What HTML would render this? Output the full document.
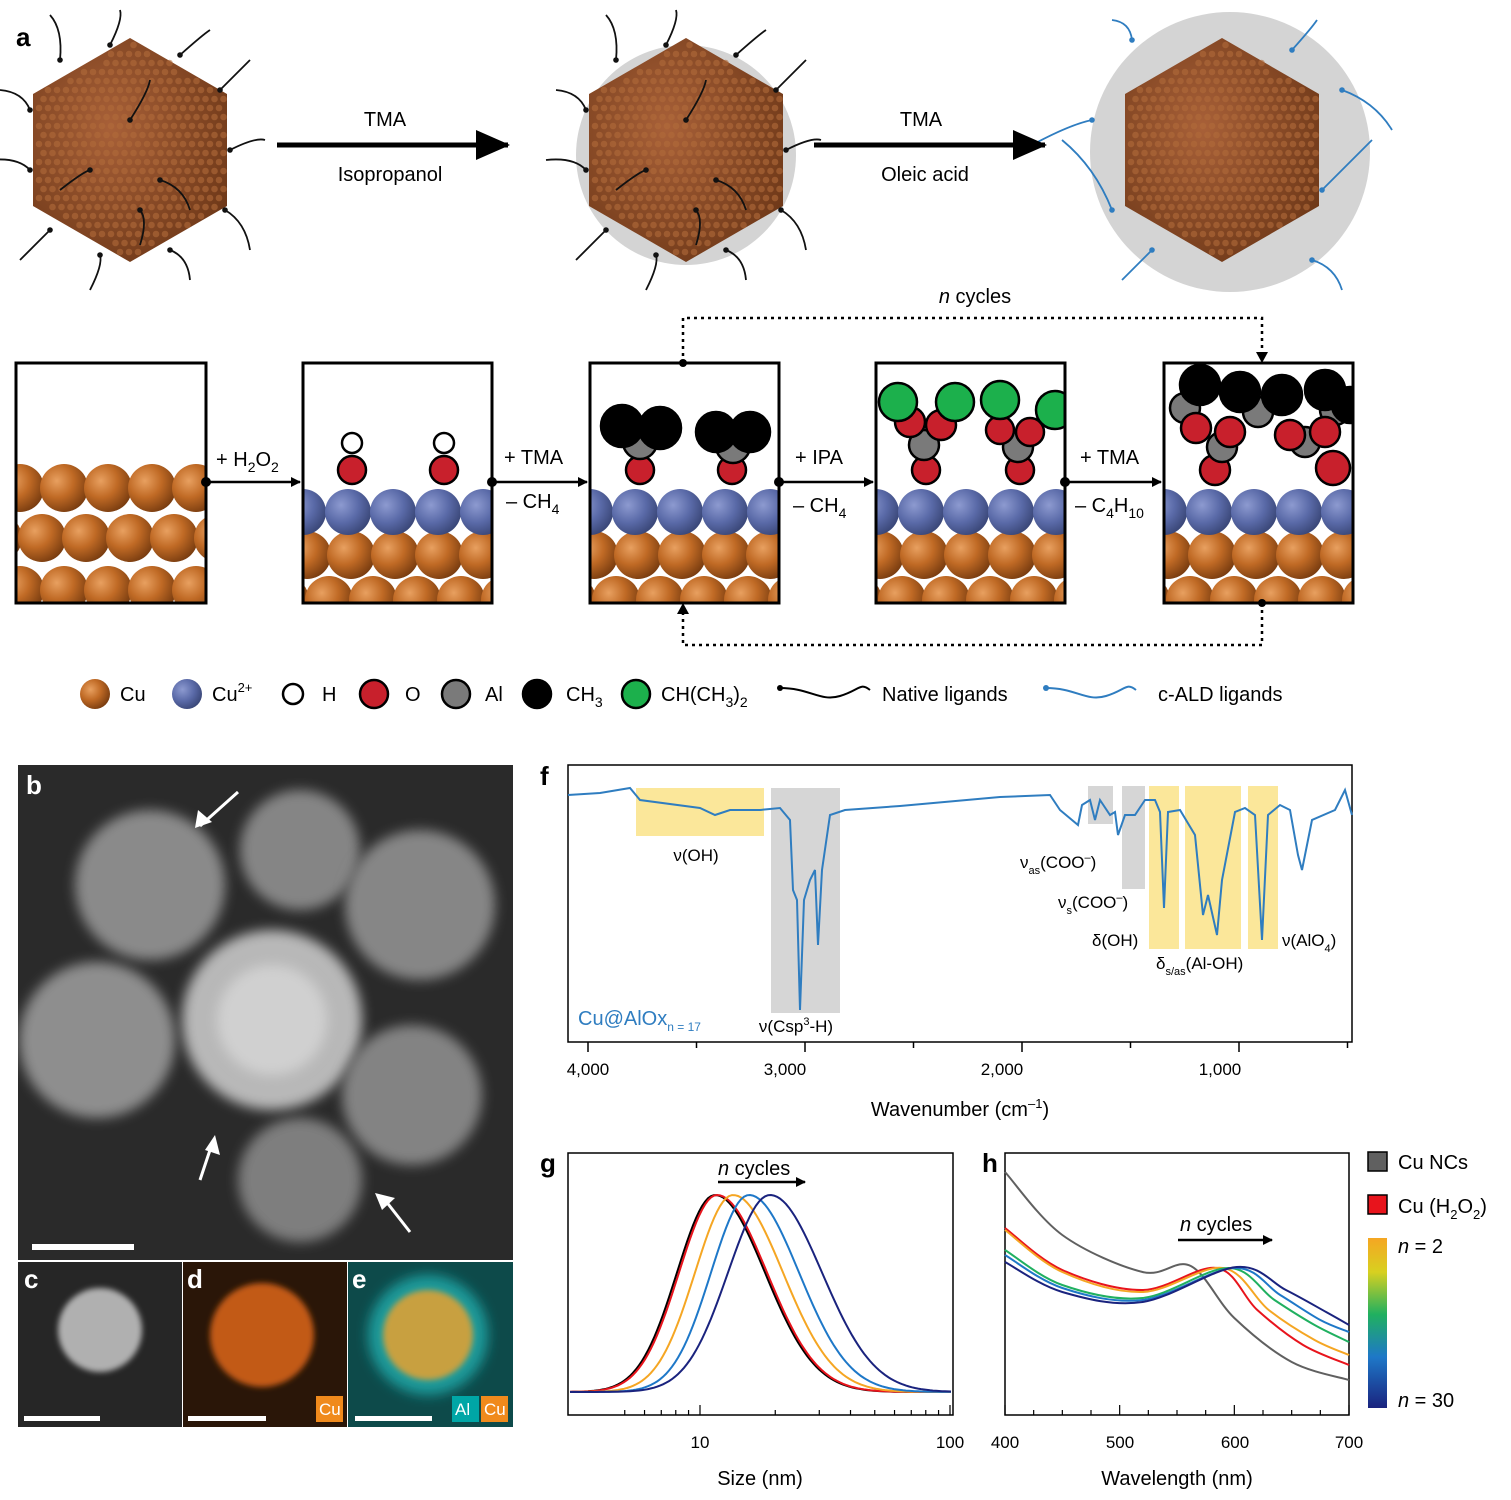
<!DOCTYPE html>
<html><head><meta charset="utf-8"><style>
html,body{margin:0;padding:0;background:#fff}
svg{display:block;font-family:"Liberation Sans",sans-serif}
</style></head><body>
<svg id="s" width="1511" height="1500" viewBox="0 0 1511 1500" xmlns="http://www.w3.org/2000/svg">
<defs>
<radialGradient id="cu" cx="35%" cy="35%" r="70%"><stop offset="0" stop-color="#e8a060"/><stop offset="0.5" stop-color="#c06a25"/><stop offset="1" stop-color="#7a3d10"/></radialGradient>
<radialGradient id="bl" cx="35%" cy="35%" r="70%"><stop offset="0" stop-color="#8d9ad0"/><stop offset="0.55" stop-color="#5a6aa8"/><stop offset="1" stop-color="#3a4778"/></radialGradient>
<radialGradient id="nc" cx="40%" cy="40%" r="70%"><stop offset="0" stop-color="#a86038"/><stop offset="1" stop-color="#6e3818"/></radialGradient>
<linearGradient id="cb" x1="0" y1="0" x2="0" y2="1"><stop offset="0" stop-color="#f5a623"/><stop offset="0.2" stop-color="#d8d020"/><stop offset="0.45" stop-color="#20b060"/><stop offset="0.7" stop-color="#1e78c8"/><stop offset="1" stop-color="#1a237e"/></linearGradient>
<filter id="blur"><feGaussianBlur stdDeviation="6"/></filter>
<filter id="blur2"><feGaussianBlur stdDeviation="3"/></filter>
<clipPath id="c1"><rect x="16" y="363" width="190" height="240"/></clipPath>
<clipPath id="c2"><rect x="303" y="363" width="189" height="240"/></clipPath>
<clipPath id="c3"><rect x="590" y="363" width="189" height="240"/></clipPath>
<clipPath id="c4"><rect x="876" y="363" width="189" height="240"/></clipPath>
<clipPath id="c5"><rect x="1164" y="363" width="188" height="240"/></clipPath>
<clipPath id="tem"><rect x="18" y="765" width="495" height="495"/></clipPath>
<marker id="ah" markerWidth="10" markerHeight="10" refX="9" refY="5" orient="auto" markerUnits="userSpaceOnUse"><path d="M0,0 L10,5 L0,10 z" fill="#000"/></marker>
</defs>
<g id="g"></g>
<g font-size="20" fill="#000">
<text x="16" y="46" font-weight="bold" font-size="26">a</text>
<text x="385" y="126" text-anchor="middle">TMA</text>
<text x="390" y="181" text-anchor="middle">Isopropanol</text>
<text x="921" y="126" text-anchor="middle">TMA</text>
<text x="925" y="181" text-anchor="middle">Oleic acid</text>
<text x="975" y="303" text-anchor="middle"><tspan font-style="italic">n</tspan> cycles</text>
<text x="216" y="466">+ H<tspan font-size="14" dy="6">2</tspan><tspan dy="-6">O</tspan><tspan font-size="14" dy="6">2</tspan></text>
<text x="504" y="464">+ TMA</text>
<text x="506" y="508">– CH<tspan font-size="14" dy="6">4</tspan></text>
<text x="795" y="464">+ IPA</text>
<text x="793" y="512">– CH<tspan font-size="14" dy="6">4</tspan></text>
<text x="1080" y="464">+ TMA</text>
<text x="1075" y="512">– C<tspan font-size="14" dy="6">4</tspan><tspan dy="-6">H</tspan><tspan font-size="14" dy="6">10</tspan></text>
<text x="120" y="701">Cu</text>
<text x="212" y="701">Cu<tspan font-size="13" dy="-9">2+</tspan></text>
<text x="322" y="701">H</text>
<text x="405" y="701">O</text>
<text x="485" y="701">Al</text>
<text x="566" y="701">CH<tspan font-size="14" dy="6">3</tspan></text>
<text x="661" y="701">CH(CH<tspan font-size="14" dy="6">3</tspan><tspan dy="-6">)</tspan><tspan font-size="14" dy="6">2</tspan></text>
<text x="882" y="701">Native ligands</text>
<text x="1158" y="701">c-ALD ligands</text>
<text x="540" y="785" font-weight="bold" font-size="26">f</text>
<text x="540" y="1172" font-weight="bold" font-size="26">g</text>
<text x="982" y="1172" font-weight="bold" font-size="26">h</text>
</g>
<g font-size="17" fill="#000">
<text x="696" y="861" text-anchor="middle">ν(OH)</text>
<text x="796" y="1032" text-anchor="middle">ν(Csp<tspan font-size="11" dy="-7">3</tspan><tspan dy="7">-H)</tspan></text>
<text x="1020" y="868">ν<tspan font-size="11" dy="6">as</tspan><tspan dy="-6">(COO</tspan><tspan font-size="11" dy="-7">–</tspan><tspan dy="7">)</tspan></text>
<text x="1058" y="908">ν<tspan font-size="11" dy="6">s</tspan><tspan dy="-6">(COO</tspan><tspan font-size="11" dy="-7">–</tspan><tspan dy="7">)</tspan></text>
<text x="1092" y="946">δ(OH)</text>
<text x="1156" y="969">δ<tspan font-size="11" dy="6">s/as</tspan><tspan dy="-6">(Al-OH)</tspan></text>
<text x="1282" y="946">ν(AlO<tspan font-size="11" dy="6">4</tspan><tspan dy="-6">)</tspan></text>
<text x="578" y="1025" fill="#2f7dc0" font-size="20">Cu@AlOx<tspan font-size="12" dy="6">n = 17</tspan></text>
<text x="588" y="1075" text-anchor="middle">4,000</text>
<text x="785" y="1075" text-anchor="middle">3,000</text>
<text x="1002" y="1075" text-anchor="middle">2,000</text>
<text x="1220" y="1075" text-anchor="middle">1,000</text>
<text x="960" y="1116" text-anchor="middle" font-size="20">Wavenumber (cm<tspan font-size="13" dy="-8">–1</tspan><tspan dy="8">)</tspan></text>
<text x="700" y="1448" text-anchor="middle">10</text>
<text x="950" y="1448" text-anchor="middle">100</text>
<text x="760" y="1485" text-anchor="middle" font-size="20">Size (nm)</text>
<text x="718" y="1175" font-size="20"><tspan font-style="italic">n</tspan> cycles</text>
<text x="1005" y="1448" text-anchor="middle">400</text>
<text x="1120" y="1448" text-anchor="middle">500</text>
<text x="1235" y="1448" text-anchor="middle">600</text>
<text x="1349" y="1448" text-anchor="middle">700</text>
<text x="1177" y="1485" text-anchor="middle" font-size="20">Wavelength (nm)</text>
<text x="1180" y="1231" font-size="20"><tspan font-style="italic">n</tspan> cycles</text>
<text x="1398" y="1169" font-size="20">Cu NCs</text>
<text x="1398" y="1213" font-size="20">Cu (H<tspan font-size="13" dy="6">2</tspan><tspan dy="-6">O</tspan><tspan font-size="13" dy="6">2</tspan><tspan dy="-6">)</tspan></text>
<text x="1398" y="1253" font-size="20"><tspan font-style="italic">n</tspan> = 2</text>
<text x="1398" y="1407" font-size="20"><tspan font-style="italic">n</tspan> = 30</text>
</g>
<g font-weight="bold" font-size="26" fill="#fff">
<text x="26" y="794">b</text><text x="24" y="1288">c</text><text x="187" y="1288">d</text><text x="352" y="1288">e</text>
</g>
<g font-size="17" fill="#fff">
<rect x="316" y="1396" width="27" height="26" fill="#f08a1c"/><text x="319" y="1415">Cu</text>
<rect x="452" y="1396" width="27" height="26" fill="#00a6a6"/><text x="455" y="1415">Al</text>
<rect x="481" y="1396" width="27" height="26" fill="#f08a1c"/><text x="484" y="1415">Cu</text>
</g>
</svg>
<script>
const NS="http://www.w3.org/2000/svg",G=document.getElementById('g');
function el(t,a,p){const e=document.createElementNS(NS,t);for(const k in a)e.setAttribute(k,a[k]);(p||G).appendChild(e);return e}
function C(x,y,r,f,p,sw){return el('circle',{cx:x,cy:y,r:r,fill:f,stroke:sw===0?'none':'#000','stroke-width':sw||2.5},p)}
function hex(cx,cy,R){let p=[];for(let i=0;i<6;i++){const a=Math.PI/6+i*Math.PI/3;p.push((cx+R*Math.cos(a)).toFixed(1)+','+(cy+R*Math.sin(a)).toFixed(1))}return p.join(' ')}
el('circle',{cx:686,cy:155,r:110,fill:'#d4d4d4'});
el('circle',{cx:1230,cy:152,r:140,fill:'#d4d4d4'});
[[130,150],[686,150],[1222,150]].forEach(([x,y],k)=>{
 el('polygon',{points:hex(x,y,112),fill:'url(#nc)'});
 const g=el('g',{});
 for(let yy=y-105;yy<y+110;yy+=9)for(let xx=x-100;xx<x+100;xx+=9){
  const dx=Math.abs(xx-x),dy=Math.abs(yy-y);if(dx>95||dy+dx*0.577>108)continue;
  el('circle',{cx:xx+((yy/9|0)%2)*4.5,cy:yy,r:3.3,fill:'#b06a3a',opacity:0.6},g)}
 const col=k==2?'#2f7dc0':'#111';
 const L=k==2?[[-90,-110,-110,-130],[70,-100,95,-130],[-110,60,-160,-10],[100,40,150,-10],[-70,100,-100,130],[90,110,120,140],[-130,-30,-190,-5],[120,-60,170,-20]]:
 [[-70,-90,-80,-135],[-20,-105,-10,-140],[50,-95,80,-120],[90,-60,120,-90],[100,0,135,-10],[95,60,120,100],[40,100,60,130],[-30,105,-40,140],[-80,80,-110,110],[-100,20,-140,10],[-100,-40,-130,-60],[0,-30,20,-70],[30,30,60,60],[-40,20,-70,40],[10,60,10,95]];
 L.forEach(([a,b,c,d])=>{const x1=x+a,y1=y+b,x2=x+c,y2=y+d;
  el('path',{d:`M${x1},${y1} Q${(x1+x2)/2+8},${(y1+y2)/2-8} ${x2},${y2}`,stroke:col,'stroke-width':1.8,fill:'none'});
  el('circle',{cx:x1,cy:y1,r:2.8,fill:col})});
});
el('line',{x1:277,y1:145,x2:508,y2:145,stroke:'#000','stroke-width':5});
el('path',{d:'M476,130 L510,145 L476,160z',fill:'#000'});
el('line',{x1:814,y1:145,x2:1045,y2:145,stroke:'#000','stroke-width':5});
el('path',{d:'M1013,130 L1047,145 L1013,160z',fill:'#000'});
const bx=[16,303,590,876,1164];
bx.forEach((x,i)=>{const g=el('g',{'clip-path':`url(#c${i+1})`});
 if(i==0){[488,538,590].forEach((y,r)=>{for(let j=-1;j<6;j++)C(x+4+j*44+(r%2)*22,y,24,'url(#cu)',g,0)})}
 else{[555,600].forEach((y,r)=>{for(let j=-1;j<6;j++)C(x+4+j*44+(r%2)*22,y,24,'url(#cu)',g,0)});
  for(let j=0;j<6;j++)C(x+j*45,512,23,'url(#bl)',g,0)}
 const R='#c8202c',K='#000',A='#7a7a7a',Gn='#1cb04c',W='#fff';
 let at=[];
 if(i==1)at=[[352,443,10,W],[444,443,10,W],[352,470,14,R],[444,470,14,R]];
 if(i==2)at=[[640,470,14,R],[732,470,14,R],[640,442,17,A],[733,446,17,A],[622,426,21,K],[660,428,21,K],[716,432,20,K],[750,432,20,K]];
 if(i==3)at=[[926,470,14,R],[1020,470,14,R],[924,445,15,A],[1018,447,15,A],[910,422,15,R],[941,425,15,R],[1000,430,14,R],[1030,432,14,R],[898,402,19,Gn],[955,402,19,Gn],[1000,400,19,Gn],[1055,410,19,Gn]];
 if(i==4)at=[[1215,470,15,R],[1333,468,17,R],[1185,408,15,A],[1258,412,15,A],[1335,410,15,A],[1222,447,15,A],[1305,442,15,A],[1200,385,20,K],[1240,392,20,K],[1282,395,20,K],[1325,390,20,K],[1350,405,18,K],[1196,428,15,R],[1230,432,15,R],[1290,435,15,R],[1325,432,15,R]];
 at.forEach(a=>C(a[0],a[1],a[2],a[3],g,2.5));
 el('rect',{x:x,y:363,width:i==0?190:189,height:240,fill:'none',stroke:'#000','stroke-width':3});
});
[[206,303],[492,590],[779,876],[1065,1164]].forEach(([a,b])=>{
 el('line',{x1:a,y1:482,x2:b-3,y2:482,stroke:'#000','stroke-width':2.5,'marker-end':'url(#ah)'});
 el('circle',{cx:a,cy:482,r:5,fill:'#000'})});
const dash={stroke:'#000','stroke-width':2.5,fill:'none','stroke-dasharray':'3,4'};
el('path',Object.assign({d:'M683,363 V318 H1262 V355'},dash));
el('path',{d:'M1256,352 L1262,363 L1268,352z',fill:'#000'});
el('circle',{cx:683,cy:363,r:4,fill:'#000'});
el('path',Object.assign({d:'M1262,603 V645 H683 V612'},dash));
el('path',{d:'M677,614 L683,603 L689,614z',fill:'#000'});
el('circle',{cx:1262,cy:603,r:4,fill:'#000'});
C(95,694,15,'url(#cu)',G,0);C(187,694,15,'url(#bl)',G,0);C(293,694,10,'#fff');C(374,694,14,'#c8202c');C(456,694,14,'#7a7a7a');C(537,694,14,'#000');C(636,694,14,'#1cb04c');
el('path',{d:'M780,688 C810,688 820,702 840,696 S860,682 870,690',stroke:'#000','stroke-width':2,fill:'none'});el('circle',{cx:780,cy:688,r:3,fill:'#000'});
el('path',{d:'M1046,688 C1076,688 1086,702 1106,696 S1126,682 1136,690',stroke:'#2f7dc0','stroke-width':2,fill:'none'});el('circle',{cx:1046,cy:688,r:3,fill:'#2f7dc0'});
const t=el('g',{'clip-path':'url(#tem)'});
el('rect',{x:18,y:765,width:495,height:495,fill:'#2a2a2a'},t);
[[150,885,75,'#8a8a8a'],[300,850,60,'#858585'],[420,905,75,'#868686'],[272,1020,90,'#b8b8b8'],[97,1040,78,'#8e8e8e'],[412,1095,70,'#838383'],[300,1180,62,'#7e7e7e']].forEach(p=>el('circle',{cx:p[0],cy:p[1],r:p[2],fill:p[3],filter:'url(#blur)'},t));
el('circle',{cx:272,cy:1020,r:55,fill:'#d0d0d0',filter:'url(#blur)'},t);
[[238,792,200,826],[210,1150,200,1180],[385,1200,410,1232]].forEach(([a,b,c,d])=>{el('line',{x1:a,y1:b,x2:c,y2:d,stroke:'#fff','stroke-width':3},t)});
el('path',{d:'M195,828 L198,810 L212,822z',fill:'#fff'});
el('path',{d:'M215,1135 L220,1155 L205,1150z',fill:'#fff'});
el('path',{d:'M375,1193 L395,1198 L382,1210z',fill:'#fff'});
el('rect',{x:32,y:1244,width:102,height:6,fill:'#fff'});
el('rect',{x:18,y:1262,width:164,height:165,fill:'#262626'});
el('circle',{cx:100,cy:1330,r:42,fill:'#b0b0b0',filter:'url(#blur2)'});
el('rect',{x:183,y:1262,width:164,height:165,fill:'#2a1608'});
el('circle',{cx:262,cy:1335,r:52,fill:'#c25a14',filter:'url(#blur2)'});
el('rect',{x:348,y:1262,width:165,height:165,fill:'#0d4a4a'});
el('circle',{cx:428,cy:1335,r:60,fill:'#1a9a9a',filter:'url(#blur)'});
el('circle',{cx:428,cy:1335,r:45,fill:'#c8a040',filter:'url(#blur2)'});
[[24,1418,100],[188,1418,266],[355,1418,432]].forEach(([a,b,c])=>el('rect',{x:a,y:b-2,width:c-a,height:5,fill:'#fff'}));
[[636,788,128,48,'#fbe79a'],[771,788,69,225,'#d6d6d6'],[1088,786,25,38,'#d6d6d6'],[1122,786,23,103,'#d6d6d6'],[1149,786,30,163,'#fbe79a'],[1185,786,56,163,'#fbe79a'],[1248,786,30,163,'#fbe79a']].forEach(r=>el('rect',{x:r[0],y:r[1],width:r[2],height:r[3],fill:r[4]}));
el('rect',{x:568,y:765,width:784,height:277,fill:'none',stroke:'#000','stroke-width':1.5});
for(let i=0;i<8;i++){const x=588+i*108.5;el('line',{x1:x,y1:1042,x2:x,y2:i%2?1048:1052,stroke:'#000','stroke-width':1.5})}
let fp='M568,795 L600,793 L630,788 L640,800 L700,808 L715,815 L730,810 L760,810 L780,808 L790,820 L793,890 L797,900 L800,1010 L804,900 L810,880 L815,870 L818,945 L822,870 L830,815 L845,810 L900,806 L1000,797 L1050,795 L1060,810 L1078,825 L1082,805 L1090,800 L1095,820 L1100,800 L1110,815 L1115,812 L1118,835 L1125,815 L1135,815 L1145,800 L1155,800 L1160,812 L1164,908 L1168,812 L1180,810 L1195,835 L1203,915 L1208,895 L1217,935 L1222,880 L1235,812 L1245,808 L1255,815 L1262,940 L1268,815 L1280,805 L1290,810 L1298,855 L1302,870 L1312,820 L1335,810 L1345,790 L1352,815';
el('path',{d:fp,stroke:'#2f7dc0','stroke-width':2,fill:'none'});
el('rect',{x:568,y:1153,width:385,height:262,fill:'none',stroke:'#000','stroke-width':1.5});
const lg=v=>450+250*Math.log10(v);
[5,6,7,8,9,10,20,30,40,50,60,70,80,90,100].forEach(v=>{const x=lg(v);if(x<568)return;el('line',{x1:x,y1:1415,x2:x,y2:v==10||v==100?1405:1410,stroke:'#000','stroke-width':1.2})});
el('line',{x1:718,y1:1182,x2:805,y2:1182,stroke:'#000','stroke-width':2.5,'marker-end':'url(#ah)'});
[[715,'#000'],[717,'#e8141c'],[733,'#f5a623'],[749,'#1e78c8'],[770,'#1a237e']].forEach(([pk,c],k)=>{let d='';for(let x=570;x<=952;x+=3){const s=(x<pk?(k==4?42:38):(k==4?52:50));const y=1392-197*Math.exp(-((x-pk)**2)/(2*s*s));d+=(d?'L':'M')+x+','+y.toFixed(1)}el('path',{d:d,stroke:c,'stroke-width':2,fill:'none'})});
el('rect',{x:1005,y:1153,width:344,height:262,fill:'none',stroke:'#000','stroke-width':1.5});
for(let v=400;v<=700;v+=25){const x=1005+(v-400)*344/300;el('line',{x1:x,y1:1415,x2:x,y2:v%100?1410:1405,stroke:'#000','stroke-width':1.2})}
el('line',{x1:1178,y1:1240,x2:1272,y2:1240,stroke:'#000','stroke-width':2.5,'marker-end':'url(#ah)'});
function cr(pts){const P=pts.map(([w,y])=>[1005+(w-400)*344/300,y]);let d=`M${P[0][0]},${P[0][1]}`;for(let i=0;i<P.length-1;i++){const p0=P[Math.max(0,i-1)],p1=P[i],p2=P[i+1],p3=P[Math.min(P.length-1,i+2)];const c1=[p1[0]+(p2[0]-p0[0])/6,p1[1]+(p2[1]-p0[1])/6],c2=[p2[0]-(p3[0]-p1[0])/6,p2[1]-(p3[1]-p1[1])/6];d+=` C${c1[0].toFixed(1)},${c1[1].toFixed(1)} ${c2[0].toFixed(1)},${c2[1].toFixed(1)} ${p2[0].toFixed(1)},${p2[1].toFixed(1)}`}return d}
[[[[400,1172],[450,1235],[520,1272],[562,1266],[600,1318],[650,1362],[700,1380]],'#606060'],
[[[400,1228],[450,1270],[520,1290],[585,1268],[620,1310],[660,1345],[700,1365]],'#e8141c'],
[[[400,1230],[450,1272],[520,1292],[590,1268],[630,1310],[670,1340],[700,1355]],'#f5a623'],
[[[400,1250],[450,1285],[520,1298],[595,1268],[635,1300],[670,1325],[700,1342]],'#20b060'],
[[[400,1255],[450,1288],[520,1300],[600,1268],[640,1295],[675,1320],[700,1332]],'#1e78c8'],
[[[400,1262],[450,1292],[520,1302],[602,1267],[645,1290],[680,1312],[700,1325]],'#1a237e']].forEach(([p,c])=>el('path',{d:cr(p),stroke:c,'stroke-width':2,fill:'none'}));
el('rect',{x:1368,y:1152,width:19,height:19,fill:'#606060',stroke:'#000','stroke-width':1.5});
el('rect',{x:1368,y:1195,width:19,height:19,fill:'#e8141c',stroke:'#000','stroke-width':1.5});
el('rect',{x:1368,y:1238,width:19,height:170,fill:'url(#cb)'});
</script>
</body></html>
